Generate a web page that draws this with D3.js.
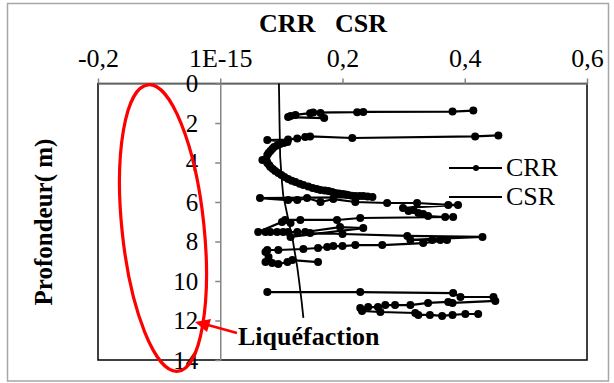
<!DOCTYPE html>
<html>
<head>
<meta charset="utf-8">
<script src="https://cdn.jsdelivr.net/npm/d3@7"></script>
<style>
  body { margin: 0; background: #fff; }
  text { font-family: "Liberation Serif", "Times New Roman", serif; fill: #000; }
</style>
</head>
<body>
<svg id="chart" width="614" height="383"></svg>
<script>
const xTicks = [-0.2, 0, 0.2, 0.4, 0.6]
const xTickLabels = ['-0,2', '1E-15', '0,2', '0,4', '0,6']
const yTicks = [0, 2, 4, 6, 8, 10, 12, 14]

// CRR points (null = gap in the series)
const crrValues = [
  0.414, 0.380, 0.234, 0.224, 0.152, 0.164, 0.147, 0.123, 0.115, 0.111, 0.170, null,
  0.455, 0.417, 0.216, 0.147, 0.139, 0.126, 0.111, 0.077,
  0.110, 0.104, 0.098, 0.093, 0.088, 0.085, 0.082, 0.079, 0.077, 0.075, 0.069, 0.076,
  0.077, 0.080, 0.082, 0.086, 0.090, 0.095, 0.100, 0.105, 0.111, 0.117,
  0.123, 0.130, 0.136, 0.144, 0.151, 0.158, 0.164, 0.171, 0.177, 0.183, 0.188, 0.194,
  0.200, 0.205, 0.209, 0.215, 0.221, 0.228, 0.234, 0.241, 0.249,
  0.065, 0.111, 0.126, 0.142, 0.164, 0.185, 0.221, 0.273, 0.322, 0.373, 0.389,
  0.299, 0.308, 0.316, 0.324, 0.332, 0.340, 0.368, 0.381,
  0.229, 0.191, 0.131, 0.106, 0.115, 0.101,
  0.062, 0.074, 0.082, 0.093, 0.103, 0.111, 0.126, 0.139, 0.196, 0.234, 0.115,
  0.147, 0.200, 0.306, 0.429, 0.311, 0.347, 0.360, 0.371, 0.332,
  0.265, 0.221, 0.200, 0.185, 0.175, 0.160, 0.136, 0.095, 0.077,
  0.074, 0.079, 0.074, 0.085, 0.095, 0.110, 0.118, 0.160, null,
  0.077, 0.229, 0.381, 0.393, 0.447, 0.450, 0.380, 0.373, 0.340, 0.311, 0.286, 0.270,
  0.258, 0.242, 0.229, 0.232, 0.262, 0.319, 0.324, 0.343, 0.363, 0.380, 0.401, 0.422
]
const crrDepths = [
  1.37, 1.42, 1.44, 1.45, 1.47, 1.49, 1.50, 1.59, 1.65, 1.70, 1.75, null,
  2.63, 2.68, 2.76, 2.68, 2.71, 2.78, 2.84, 2.86,
  2.96, 3.01, 3.06, 3.14, 3.22, 3.32, 3.42, 3.52, 3.62, 3.82, 3.87, 3.93,
  4.03, 4.13, 4.23, 4.33, 4.43, 4.53, 4.63, 4.73, 4.84, 4.92,
  4.99, 5.07, 5.14, 5.22, 5.29, 5.34, 5.39, 5.42, 5.44, 5.49, 5.54, 5.57,
  5.59, 5.62, 5.65, 5.68, 5.70, 5.70, 5.70, 5.72, 5.75,
  5.80, 5.90, 5.90, 5.80, 6.00, 5.85, 6.00, 6.05, 6.05, 6.15, 6.15,
  6.30, 6.46, 6.41, 6.56, 6.61, 6.71, 6.76, 6.76,
  6.81, 6.91, 6.91, 6.91, 7.06, 7.01,
  7.52, 7.52, 7.52, 7.52, 7.52, 7.52, 7.52, 7.52, 7.27, 7.32, 7.77,
  7.57, 7.62, 7.72, 7.77, 7.92, 7.92, 7.92, 7.92, 8.08,
  8.18, 8.18, 8.23, 8.23, 8.28, 8.33, 8.38, 8.43, 8.43,
  8.53, 8.78, 9.04, 9.09, 9.14, 9.04, 8.94, 9.04, null,
  10.56, 10.56, 10.61, 10.81, 10.81, 11.01, 11.11, 11.06, 11.11, 11.22, 11.22, 11.22,
  11.32, 11.32, 11.37, 11.52, 11.57, 11.62, 11.72, 11.72, 11.77, 11.72, 11.67, 11.67
]

// CSR line
const csrValues = [0.096, 0.097, 0.098, 0.101, 0.103, 0.112, 0.119, 0.126, 0.129, 0.133, 0.136]
const csrDepths = [0, 2, 3.7, 5, 5.65, 7, 8, 9.3, 10, 11, 11.87]

const svg = d3.select('#chart')
const grey = '#868686'

// outer frame
svg.append('rect')
  .attr('x', 7.5).attr('y', 3.5)
  .attr('width', 601).attr('height', 377.5)
  .attr('fill', '#fff')
  .attr('stroke', '#a6a6a6')
  .attr('stroke-width', 1.5)

const xScale = d3.scaleLinear()
  .domain([-0.2, 0.6])
  .range([98, 587])

const yScale = d3.scaleLinear()
  .domain([0, 14])
  .range([83.5, 360])

// plot area border
svg.append('rect')
  .attr('x', 98).attr('y', 83.5)
  .attr('width', 489).attr('height', 276.5)
  .attr('fill', 'none')
  .attr('stroke', '#000')
  .attr('stroke-width', 1.5)

// top axis
const xAxis = d3.axisTop(xScale)
  .tickValues(xTicks)
  .tickFormat((d, i) => xTickLabels[i])
  .tickSizeInner(5)
  .tickSizeOuter(0)
  .tickPadding(12)

const xg = svg.append('g')
  .attr('transform', 'translate(0,83.5)')
  .call(xAxis)
xg.select('.domain').attr('stroke', grey).attr('stroke-width', 1.5)
xg.selectAll('.tick line').attr('stroke', grey).attr('stroke-width', 1.5)
xg.selectAll('text')
  .style('font-family', '"Liberation Serif", "Times New Roman", serif')
  .style('font-size', '26px')
  .attr('fill', '#000')

// vertical axis crossing at 0
const yAxis = d3.axisLeft(yScale)
  .tickValues(yTicks)
  .tickSizeInner(5)
  .tickSizeOuter(0)
  .tickPadding(17)

const yg = svg.append('g')
  .attr('transform', `translate(${xScale(0)},0)`)
  .call(yAxis)
yg.select('.domain').attr('stroke', grey).attr('stroke-width', 1.5)
yg.selectAll('.tick line').attr('stroke', grey).attr('stroke-width', 1.5)
yg.selectAll('text')
  .style('font-family', '"Liberation Serif", "Times New Roman", serif')
  .style('font-size', '25px')
  .attr('fill', '#000')

// titles
svg.append('text')
  .attr('x', 323).attr('y', 32)
  .attr('text-anchor', 'middle')
  .style('font-size', '26px')
  .style('font-weight', 'bold')
  .style('white-space', 'pre')
  .text('CRR   CSR')

svg.append('text')
  .attr('transform', 'translate(52,222) rotate(-90)')
  .attr('text-anchor', 'middle')
  .style('font-size', '25px')
  .style('font-weight', 'bold')
  .text('Profondeur( m)')

// series
const crr = crrValues.map((v, i) => ({ v, d: crrDepths[i] }))
const csr = csrValues.map((v, i) => ({ v, d: csrDepths[i] }))

const line = d3.line()
  .defined(p => p.v != null)
  .x(p => xScale(p.v))
  .y(p => yScale(p.d))

svg.append('path')
  .datum(csr)
  .attr('d', line)
  .attr('fill', 'none')
  .attr('stroke', '#000')
  .attr('stroke-width', 1.8)

svg.append('path')
  .datum(crr)
  .attr('d', line)
  .attr('fill', 'none')
  .attr('stroke', '#000')
  .attr('stroke-width', 2.2)

svg.selectAll('.dot')
  .data(crr.filter(p => p.v != null))
  .join('circle')
  .attr('class', 'dot')
  .attr('cx', p => xScale(p.v))
  .attr('cy', p => yScale(p.d))
  .attr('r', 4)
  .attr('fill', '#000')

// legend
const legend = svg.append('g')
legend.append('line')
  .attr('x1', 449).attr('x2', 502).attr('y1', 168).attr('y2', 168)
  .attr('stroke', '#000').attr('stroke-width', 2.2)
legend.append('circle')
  .attr('cx', 476).attr('cy', 168).attr('r', 3).attr('fill', '#000')
legend.append('text')
  .attr('x', 506).attr('y', 176)
  .style('font-size', '26px')
  .text('CRR')
legend.append('line')
  .attr('x1', 449).attr('x2', 502).attr('y1', 197).attr('y2', 197)
  .attr('stroke', '#000').attr('stroke-width', 2)
legend.append('text')
  .attr('x', 506).attr('y', 205)
  .style('font-size', '26px')
  .text('CSR')

// liquefaction annotation
svg.append('ellipse')
  .attr('cx', 163).attr('cy', 228)
  .attr('rx', 41).attr('ry', 144)
  .attr('transform', 'rotate(-6,163,228)')
  .attr('fill', 'none')
  .attr('stroke', '#ff0000')
  .attr('stroke-width', 3.2)

svg.append('line')
  .attr('x1', 237).attr('y1', 333)
  .attr('x2', 208).attr('y2', 325)
  .attr('stroke', '#ff0000')
  .attr('stroke-width', 2.4)

svg.append('path')
  .attr('d', 'M195,322 L211,319 L207,332 Z')
  .attr('fill', '#ff0000')

svg.append('text')
  .attr('x', 238).attr('y', 345)
  .style('font-size', '26px')
  .style('font-weight', 'bold')
  .text('Liquéfaction')
</script>
</body>
</html>
